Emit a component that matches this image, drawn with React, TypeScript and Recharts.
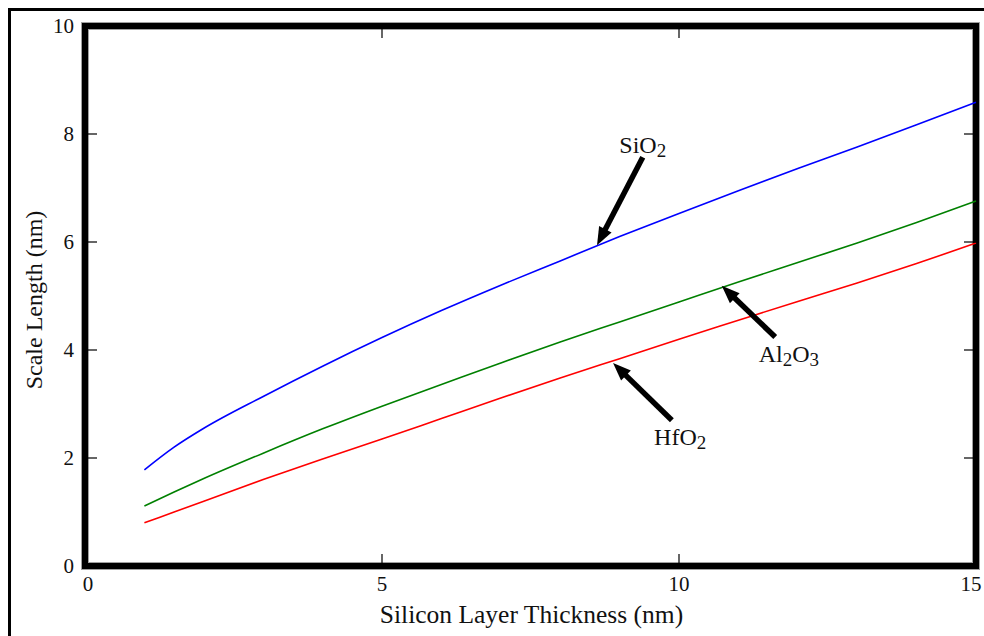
import React from 'react';
import {
  LineChart,
  Line,
  XAxis,
  YAxis,
  ReferenceArea,
  ReferenceLine,
  ReferenceDot,
} from 'recharts';

// silicon layer thickness (nm)
const thickness = [1, 1.5, 2, 3, 4, 5, 6, 7, 8, 9, 10, 11, 12, 13, 14, 15];

// scale length (nm) per gate dielectric
const sio2 = [1.78, 2.2, 2.55, 3.14, 3.7, 4.23, 4.73, 5.2, 5.65, 6.1, 6.53, 6.95, 7.36, 7.76, 8.17, 8.59];
const al2o3 = [1.11, 1.37, 1.62, 2.09, 2.54, 2.96, 3.36, 3.76, 4.15, 4.52, 4.89, 5.26, 5.62, 5.98, 6.36, 6.76];
const hfo2 = [0.8, 1.0, 1.2, 1.6, 1.98, 2.35, 2.73, 3.11, 3.48, 3.84, 4.2, 4.55, 4.9, 5.24, 5.6, 5.98];

const xTicks = [0, 5, 10, 15];
const yTicks = [0, 2, 4, 6, 8, 10];

// callouts: label text, subscripts, label centre, arrow tail, arrow tip (data units)
const callouts = [
  { parts: [['SiO', false], ['2', true]], label: [9.39, 7.8], tail: [9.39, 7.57], tip: [8.62, 5.94] },
  { parts: [['Al', false], ['2', true], ['O', false], ['3', true]], label: [11.85, 3.92], tail: [11.62, 4.24], tip: [10.72, 5.19] },
  { parts: [['HfO', false], ['2', true]], label: [10.02, 2.38], tail: [9.88, 2.7], tip: [8.89, 3.76] },
] as const;

const data = thickness.map((t, i) => ({ t, sio2: sio2[i], al2o3: al2o3[i], hfo2: hfo2[i] }));

const serif = '"Liberation Serif", "Times New Roman", serif';
const TICK_LEN = 12;

const BottomTick = ({ x, y, payload }: any) => (
  <g>
    <line x1={x} x2={x} y1={y} y2={y - TICK_LEN} stroke="#000" strokeWidth={1.2} />
    <text
      x={Math.min(Math.max(x, 88), 971)}
      y={y + 25}
      textAnchor="middle"
      fontSize={21}
      fontFamily={serif}
      fill="#111"
    >
      {payload.value}
    </text>
  </g>
);

const TopTick = ({ x, y }: any) => (
  <line x1={x} x2={x} y1={y} y2={y + TICK_LEN} stroke="#000" strokeWidth={1.2} />
);

const LeftTick = ({ x, y, payload }: any) => (
  <g>
    <line x1={x} x2={x + TICK_LEN} y1={y} y2={y} stroke="#000" strokeWidth={1.2} />
    <text x={x - 11} y={y + 7} textAnchor="end" fontSize={21} fontFamily={serif} fill="#111">
      {payload.value}
    </text>
  </g>
);

const RightTick = ({ x, y }: any) => (
  <line x1={x} x2={x - TICK_LEN} y1={y} y2={y} stroke="#000" strokeWidth={1.2} />
);

// thick shaft with a filled head at the (x2, y2) end
const Arrow = ({ x1, y1, x2, y2 }: any) => {
  const dx = x2 - x1;
  const dy = y2 - y1;
  const len = Math.hypot(dx, dy);
  const ux = dx / len;
  const uy = dy / len;
  const headLen = 18;
  const headHalf = 7;
  const bx = x2 - ux * headLen;
  const by = y2 - uy * headLen;
  const head = [
    [x2, y2],
    [bx - uy * headHalf, by + ux * headHalf],
    [bx + uy * headHalf, by - ux * headHalf],
  ]
    .map((p) => p.join(','))
    .join(' ');
  return (
    <g>
      <line x1={x1} y1={y1} x2={bx + ux * 2} y2={by + uy * 2} stroke="#000" strokeWidth={5.5} />
      <polygon points={head} fill="#000" />
    </g>
  );
};

const calloutText = (parts: readonly (readonly [string, boolean])[]) => ({ cx, cy }: any) => (
  <text x={cx} y={cy + 8} textAnchor="middle" fontSize={24} fontFamily={serif} fill="#111">
    {parts.map(([s, sub], i) =>
      sub ? (
        <tspan key={i} fontSize={19} dy={4}>
          {s}
        </tspan>
      ) : (
        <tspan key={i} dy={i > 0 ? -4 : 0}>
          {s}
        </tspan>
      ),
    )}
  </text>
);

export default function App() {
  return (
    <div
      style={{
        position: 'absolute',
        left: 8,
        top: 8,
        width: 976,
        height: 628,
        boxSizing: 'border-box',
        borderLeft: '3px solid #000',
        borderTop: '3px solid #000',
        overflow: 'hidden',
        background: '#fff',
      }}
    >
      <div style={{ position: 'absolute', left: -11, top: -11 }}>
        <LineChart width={984} height={636} data={data} margin={{ top: 0, right: 0, bottom: 0, left: 0 }}>
          <XAxis
            dataKey="t"
            type="number"
            domain={[0, 15]}
            ticks={xTicks}
            height={70}
            axisLine={false}
            tickLine={false}
            tickSize={0}
            tickMargin={0}
            tick={<BottomTick />}
            interval={0}
            label={{
              content: ({ viewBox }: any) => (
                <text
                  x={viewBox.x + viewBox.width / 2 + 1}
                  y={viewBox.y + 57}
                  textAnchor="middle"
                  fontSize={25.5}
                  fontFamily={serif}
                  fill="#111"
                >
                  Silicon Layer Thickness (nm)
                </text>
              ),
            }}
          />
          <XAxis
            xAxisId="top"
            orientation="top"
            type="number"
            domain={[0, 15]}
            allowDataOverflow
            ticks={xTicks}
            height={26}
            axisLine={false}
            tickLine={false}
            tickSize={0}
            tickMargin={0}
            tick={<TopTick />}
            interval={0}
          />
          <YAxis
            type="number"
            domain={[0, 10]}
            ticks={yTicks}
            width={85}
            axisLine={false}
            tickLine={false}
            tickSize={0}
            tickMargin={0}
            tick={<LeftTick />}
            interval={0}
            label={{
              content: ({ viewBox }: any) => {
                const x = viewBox.x + 42;
                const y = viewBox.y + viewBox.height / 2 + 4;
                return (
                  <text
                    x={x}
                    y={y}
                    transform={`rotate(-90, ${x}, ${y})`}
                    textAnchor="middle"
                    fontSize={24}
                    fontFamily={serif}
                    fill="#111"
                  >
                    Scale Length (nm)
                  </text>
                );
              },
            }}
          />
          <YAxis
            yAxisId="right"
            orientation="right"
            type="number"
            domain={[0, 10]}
            allowDataOverflow
            ticks={yTicks}
            width={8}
            axisLine={false}
            tickLine={false}
            tickSize={0}
            tickMargin={0}
            tick={<RightTick />}
            interval={0}
          />
          <Line type="monotone" dataKey="sio2" stroke="#0000ff" strokeWidth={1.6} dot={false} isAnimationActive={false} />
          <Line type="monotone" dataKey="al2o3" stroke="#008000" strokeWidth={1.6} dot={false} isAnimationActive={false} />
          <Line type="monotone" dataKey="hfo2" stroke="#ff0000" strokeWidth={1.6} dot={false} isAnimationActive={false} />
          {callouts.map((c, i) => (
            <ReferenceLine
              key={`arrow-${i}`}
              segment={[
                { x: c.tail[0], y: c.tail[1] },
                { x: c.tip[0], y: c.tip[1] },
              ]}
              ifOverflow="visible"
              shape={<Arrow />}
            />
          ))}
          {callouts.map((c, i) => (
            <ReferenceDot
              key={`label-${i}`}
              x={c.label[0]}
              y={c.label[1]}
              r={0}
              ifOverflow="visible"
              shape={calloutText(c.parts as any)}
            />
          ))}
          <ReferenceArea
            x1={0}
            x2={15}
            y1={0}
            y2={10}
            fill="none"
            stroke="#a0a0a0"
            strokeWidth={8}
            ifOverflow="visible"
          />
          <ReferenceArea
            x1={0}
            x2={15}
            y1={0}
            y2={10}
            fill="none"
            stroke="#000"
            strokeWidth={6}
            ifOverflow="visible"
          />
        </LineChart>
      </div>
    </div>
  );
}
